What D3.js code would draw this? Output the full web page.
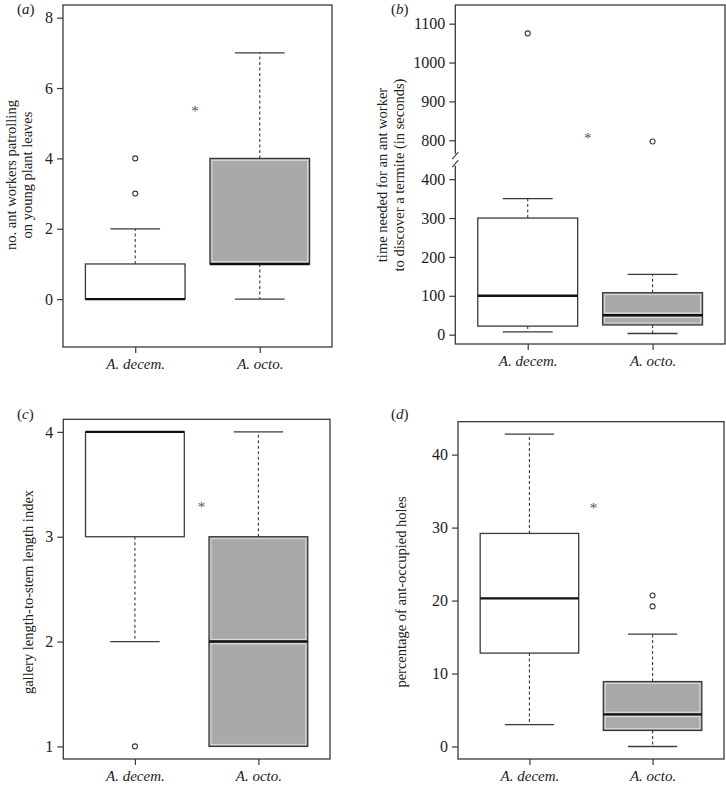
<!DOCTYPE html>
<html>
<head>
<meta charset="utf-8">
<script src="https://cdn.jsdelivr.net/npm/d3@7"></script>
<style>
  html, body { margin: 0; padding: 0; background: #fff; }
  svg { display: block; }
  text { font-family: "Liberation Serif", "DejaVu Serif", serif; fill: #222; }
</style>
</head>
<body>
<svg id="chart" width="726" height="786"></svg>
<script>
// ---------- DATA ----------
const categories = ["A. decem.", "A. octo."];
const boxFill = ["#ffffff", "#a9a9a9"];

// each row: [lower whisker, q1, median, q3, upper whisker]
const statsA = [[0, 0, 0, 1, 2], [0, 1, 1, 4, 7]];
const outliersA = [[3, 4], []];
const ticksA = [0, 2, 4, 6, 8];

const statsB = [[7, 22, 100, 300, 350], [3, 25, 50, 108, 155]];
const outliersB = [[1075], [797]];
const ticksB = [0, 100, 200, 300, 400, 800, 900, 1000, 1100];

const statsC = [[2, 3, 4, 4, 4], [1, 1, 2, 3, 4]];
const outliersC = [[1], []];
const ticksC = [1, 2, 3, 4];

const statsD = [[3, 12.8, 20.3, 29.2, 42.8], [0, 2.2, 4.4, 8.9, 15.4]];
const outliersD = [[], [19.2, 20.7]];
const ticksD = [0, 10, 20, 30, 40];

const signifA = [1.48, 5.4];
const signifB = [1.48, 811];
const signifC = [1.54, 3.3];
const signifD = [1.52, 33];

const labelA = ["no. ant workers patrolling", "on young plant leaves"];
const labelB = ["time needed for an ant worker", "to discover a termite (in seconds)"];
const labelC = ["gallery length-to-stem length index"];
const labelD = ["percentage of ant-occupied holes"];

// ---------- LAYOUT ----------
const svg = d3.select("#chart");
const LINE = "#3a3a3a";

// broken axis in panel b: values above the gap are shifted down by 300
function breakB(v) { return v > 600 ? v - 300 : v; }

const panels = [
  { tag: "a", stats: statsA, outl: outliersA, ticks: ticksA, sig: signifA, label: labelA,
    box: { l: 63, r: 332, t: 5, b: 347 }, ylim: [-1, 8], labelX: [11, 27], labelY: 175,
    tagPos: [17, 14], tf: v => v },
  { tag: "b", stats: statsB, outl: outliersB, ticks: ticksB, sig: signifB, label: labelB,
    box: { l: 455.3, r: 725, t: 5, b: 344 }, yDomain: [-24, 848], labelX: [382, 399], labelY: 175,
    tagPos: [391, 14], tf: breakB, brk: true },
  { tag: "c", stats: statsC, outl: outliersC, ticks: ticksC, sig: signifC, label: labelC,
    box: { l: 63.3, r: 330, t: 419.3, b: 759 }, ylim: [1, 4], labelX: [28], labelY: 592,
    tagPos: [17, 419], tf: v => v },
  { tag: "d", stats: statsD, outl: outliersD, ticks: ticksD, sig: signifD, label: labelD,
    box: { l: 458, r: 724, t: 421.7, b: 759 }, ylim: [0, 42.8], labelX: [401], labelY: 592,
    tagPos: [391, 419], tf: v => v }
];

panels.forEach(p => {
  const g = svg.append("g");
  const B = p.box;
  let dom;
  if (p.yDomain) dom = p.yDomain;
  else {
    const r = p.ylim[1] - p.ylim[0];
    dom = [p.ylim[0] - 0.04 * r, p.ylim[1] + 0.04 * r];
  }
  const y = d3.scaleLinear().domain(dom).range([B.b, B.t]);
  const Y = v => y(p.tf(v));
  const x = d3.scaleLinear().domain([0.42, 2.58]).range([B.l, B.r]);

  // frame
  g.append("rect").attr("x", B.l).attr("y", B.t).attr("width", B.r - B.l).attr("height", B.b - B.t)
    .attr("fill", "none").attr("stroke", LINE).attr("stroke-width", 1.3);

  // y axis
  const yAxis = d3.axisLeft(y)
    .tickValues(p.ticks.map(p.tf))
    .tickFormat((d, i) => String(p.ticks[i]))
    .tickSize(6).tickPadding(4);
  const ya = g.append("g").attr("transform", `translate(${B.l},0)`).call(yAxis);
  ya.select(".domain").remove();
  ya.selectAll(".tick line").attr("stroke", LINE).attr("stroke-width", 1.2);
  ya.selectAll(".tick text").style("font-size", "16px").style("fill", "#222");

  // x axis
  const xAxis = d3.axisBottom(x).tickValues([1, 2]).tickFormat(d => categories[d - 1])
    .tickSize(6).tickPadding(5);
  const xa = g.append("g").attr("transform", `translate(0,${B.b})`).call(xAxis);
  xa.select(".domain").remove();
  xa.selectAll(".tick line").attr("stroke", LINE).attr("stroke-width", 1.2);
  xa.selectAll(".tick text").style("font-size", "15px").style("font-style", "italic").style("fill", "#222");

  // axis break for panel b
  if (p.brk) {
    const yb = (y(400) + y(500)) / 2;
    g.append("rect").attr("x", B.l - 3).attr("y", yb - 6).attr("width", 6).attr("height", 12).attr("fill", "#fff");
    [-4, 4].forEach(o => {
      g.append("line").attr("x1", B.l - 3).attr("y1", yb + o + 3.5).attr("x2", B.l + 3).attr("y2", yb + o - 3.5)
        .attr("stroke", LINE).attr("stroke-width", 1.1);
    });
  }

  // boxes
  p.stats.forEach((s, i) => {
    const cx = x(i + 1);
    const hw = x(1.4) - x(1);
    const cw = hw / 2;
    const [lw, q1, med, q3, uw] = s;
    const dash = "3,2.5";
    if (uw > q3) g.append("line").attr("x1", cx).attr("x2", cx).attr("y1", Y(q3)).attr("y2", Y(uw))
      .attr("stroke", LINE).attr("stroke-width", 1.1).attr("stroke-dasharray", dash);
    if (lw < q1) g.append("line").attr("x1", cx).attr("x2", cx).attr("y1", Y(q1)).attr("y2", Y(lw))
      .attr("stroke", LINE).attr("stroke-width", 1.1).attr("stroke-dasharray", dash);
    [lw, uw].forEach(v => {
      g.append("line").attr("x1", cx - cw).attr("x2", cx + cw).attr("y1", Y(v)).attr("y2", Y(v))
        .attr("stroke", LINE).attr("stroke-width", 1.3);
    });
    const top = Y(q3), bot = Y(q1);
    g.append("rect").attr("x", cx - hw).attr("y", top).attr("width", 2 * hw).attr("height", bot - top)
      .attr("fill", boxFill[i]).attr("stroke", LINE).attr("stroke-width", 1.3);
    if (i === 1) {
      g.append("rect").attr("x", cx - hw + 2).attr("y", top + 2).attr("width", 2 * hw - 4)
        .attr("height", Math.max(0, bot - top - 4))
        .attr("fill", "none").attr("stroke", "#d8d8d8").attr("stroke-width", 1);
      [-2.2, 2.2].forEach(o => {
        const yy = Y(med) + o;
        if (yy > top + 1 && yy < bot - 1)
          g.append("line").attr("x1", cx - hw + 2).attr("x2", cx + hw - 2).attr("y1", yy).attr("y2", yy)
            .attr("stroke", "#e6e6e6").attr("stroke-width", 1);
      });
    }
    g.append("line").attr("x1", cx - hw).attr("x2", cx + hw).attr("y1", Y(med)).attr("y2", Y(med))
      .attr("stroke", "#111").attr("stroke-width", 2.4);
    p.outl[i].forEach(v => {
      g.append("circle").attr("cx", cx).attr("cy", Y(v)).attr("r", 2.5)
        .attr("fill", "none").attr("stroke", LINE).attr("stroke-width", 1.1);
    });
  });

  // significance asterisk
  g.append("text").attr("x", x(p.sig[0])).attr("y", Y(p.sig[1]) + 7)
    .attr("text-anchor", "middle").style("font-size", "15px").style("fill", "#555").text("*");

  // y label
  p.label.forEach((t, k) => {
    g.append("text")
      .attr("transform", `translate(${p.labelX[k]},${p.labelY}) rotate(-90)`)
      .attr("text-anchor", "middle").attr("dominant-baseline", "central")
      .style("font-size", "14.5px").text(t);
  });

  // panel tag
  const tg = g.append("text").attr("x", p.tagPos[0]).attr("y", p.tagPos[1]).style("font-size", "15px");
  tg.append("tspan").text("(");
  tg.append("tspan").style("font-style", "italic").text(p.tag);
  tg.append("tspan").text(")");
});
</script>
</body>
</html>
